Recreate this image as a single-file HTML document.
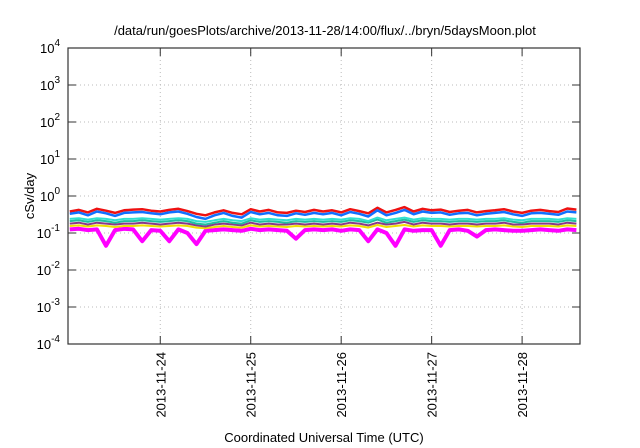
<!DOCTYPE html>
<html><head><meta charset="utf-8"><style>
body{margin:0;background:#fff;}
svg{display:block;font-family:"Liberation Sans",sans-serif;}
</style></head><body>
<svg id="chart" width="640" height="448">
<text x="325" y="35" text-anchor="middle" font-size="13">/data/run/goesPlots/archive/2013-11-28/14:00/flux/../bryn/5daysMoon.plot</text>
<text transform="translate(34,196) rotate(-90)" text-anchor="middle" font-size="13">cSv/day</text>
<text x="324" y="442" text-anchor="middle" font-size="13">Coordinated Universal Time (UTC)</text>
<g id="grid"></g><g id="series"></g><g id="axes"></g>
</svg>
<script>
const yTicks=[-4,-3,-2,-1,0,1,2,3,4];
const xTickDays=[24,25,26,27,28];
const xTickLabels=["2013-11-24","2013-11-25","2013-11-26","2013-11-27","2013-11-28"];
const tStart=23.0, tStep=0.1;
const seriesRed=[0.38,0.42,0.36,0.45,0.40,0.35,0.41,0.43,0.44,0.40,0.38,0.42,0.45,0.39,0.33,0.30,0.36,0.41,0.35,0.32,0.44,0.38,0.42,0.36,0.35,0.40,0.37,0.42,0.38,0.41,0.36,0.44,0.39,0.34,0.48,0.36,0.42,0.50,0.38,0.45,0.41,0.43,0.37,0.40,0.42,0.36,0.39,0.41,0.44,0.38,0.35,0.40,0.42,0.39,0.37,0.46,0.43];
const seriesBlue=[0.33,0.36,0.30,0.38,0.34,0.29,0.35,0.36,0.37,0.34,0.32,0.36,0.38,0.33,0.27,0.24,0.30,0.35,0.29,0.26,0.37,0.32,0.35,0.30,0.29,0.34,0.31,0.35,0.32,0.35,0.30,0.37,0.33,0.28,0.41,0.30,0.35,0.42,0.32,0.38,0.35,0.36,0.31,0.34,0.35,0.30,0.33,0.35,0.37,0.32,0.29,0.34,0.35,0.33,0.31,0.38,0.36];
const seriesCyan=[0.24,0.25,0.23,0.25,0.24,0.22,0.24,0.24,0.25,0.24,0.23,0.24,0.25,0.24,0.21,0.20,0.22,0.24,0.22,0.21,0.25,0.23,0.24,0.23,0.22,0.24,0.23,0.24,0.23,0.24,0.23,0.25,0.24,0.21,0.26,0.22,0.24,0.26,0.23,0.25,0.24,0.24,0.23,0.24,0.24,0.23,0.24,0.24,0.25,0.23,0.22,0.24,0.24,0.24,0.23,0.25,0.24];
const seriesGreen=[0.21,0.22,0.20,0.22,0.21,0.19,0.21,0.21,0.22,0.21,0.20,0.21,0.22,0.21,0.18,0.17,0.19,0.21,0.19,0.18,0.22,0.20,0.21,0.20,0.19,0.21,0.20,0.21,0.20,0.21,0.20,0.22,0.21,0.19,0.23,0.19,0.21,0.23,0.20,0.22,0.21,0.21,0.20,0.21,0.21,0.20,0.21,0.21,0.22,0.20,0.19,0.21,0.21,0.21,0.20,0.22,0.21];
const seriesPurple=[0.18,0.19,0.17,0.19,0.18,0.17,0.18,0.18,0.19,0.18,0.17,0.18,0.19,0.18,0.16,0.15,0.17,0.18,0.17,0.16,0.19,0.17,0.18,0.17,0.17,0.18,0.17,0.18,0.17,0.18,0.17,0.19,0.18,0.16,0.19,0.17,0.18,0.20,0.17,0.19,0.18,0.18,0.17,0.18,0.18,0.17,0.18,0.18,0.19,0.17,0.17,0.18,0.18,0.18,0.17,0.19,0.18];
const seriesYellow=[0.155,0.16,0.15,0.16,0.155,0.145,0.155,0.155,0.16,0.155,0.15,0.155,0.16,0.155,0.14,0.135,0.145,0.155,0.145,0.14,0.16,0.15,0.155,0.15,0.145,0.155,0.15,0.155,0.15,0.155,0.15,0.16,0.155,0.14,0.165,0.145,0.155,0.165,0.15,0.16,0.155,0.155,0.15,0.155,0.155,0.15,0.155,0.155,0.16,0.15,0.145,0.155,0.155,0.155,0.15,0.16,0.155];
const seriesMagenta=[0.125,0.13,0.12,0.125,0.045,0.12,0.13,0.125,0.06,0.12,0.115,0.06,0.125,0.10,0.05,0.115,0.12,0.125,0.12,0.115,0.13,0.12,0.125,0.12,0.115,0.07,0.12,0.125,0.12,0.125,0.115,0.125,0.12,0.06,0.125,0.10,0.045,0.125,0.115,0.12,0.12,0.045,0.12,0.125,0.115,0.08,0.12,0.125,0.12,0.115,0.115,0.12,0.125,0.12,0.115,0.125,0.12];
const L=68,R=580,T=48,B=344,x0=22.98,x1=28.64;
const X=t=>L+(t-x0)/(x1-x0)*(R-L);
const Y=v=>B-(Math.log10(v)+4)/8*(B-T);
const NS="http://www.w3.org/2000/svg";
function mk(tag,attrs,parent){const e=document.createElementNS(NS,tag);for(const k in attrs)e.setAttribute(k,attrs[k]);document.getElementById(parent).appendChild(e);return e;}
yTicks.forEach(p=>{const y=Y(Math.pow(10,p));
 if(p>-4&&p<4){const g=mk('line',{x1:L,x2:R,y1:y,y2:y,stroke:'#bbb','stroke-dasharray':'1,3','stroke-width':1},'grid');
 
 }
 const tk=mk('path',{d:`M${L},${y}h8M${R},${y}h-8`,stroke:'#333','stroke-width':1},'axes');
 
 
 const tx=mk('text',{x:L-8,y:y+5,'text-anchor':'end','font-size':13},'axes');
 tx.innerHTML='10<tspan dy="-7" font-size="10">'+p+'</tspan>';
 
 });
xTickDays.forEach((d,i)=>{const x=X(d);
 const g=mk('line',{x1:x,x2:x,y1:T,y2:B,stroke:'#bbb','stroke-dasharray':'1,3','stroke-width':1},'grid');
 
 
 const tk=mk('path',{d:`M${x},${B}v-8M${x},${T}v8`,stroke:'#333','stroke-width':1},'axes');
 
 
 const tx=mk('text',{transform:`translate(${x+5},${B+8}) rotate(-90)`,'text-anchor':'end','font-size':13},'axes');
 tx.textContent=xTickLabels[i];
 
 });
const fr=mk('rect',{x:L,y:T,width:R-L,height:B-T,fill:'none',stroke:'#333','stroke-width':1.2},'axes');


const defs=[[seriesMagenta,'#ff00ff','series-magenta',4],[seriesYellow,'#f0e000','series-yellow',2],[seriesPurple,'#8a3a8a','series-purple',2],[seriesGreen,'#20c0a0','series-green',2],[seriesCyan,'#30e0d0','series-cyan',2],[seriesRed,'#ee1111','series-red',2.5],[seriesBlue,'#1070ff','series-blue',2.5]];
defs.forEach(([arr,col,name,w])=>{
 const d=arr.map((v,i)=>(i?'L':'M')+X(tStart+i*tStep).toFixed(1)+','+Y(v).toFixed(1)).join('');
 const p=mk('path',{d:d,fill:'none',stroke:col,'stroke-width':w,'stroke-linejoin':'round'},'series');
 
 });
</script>
</body></html>
